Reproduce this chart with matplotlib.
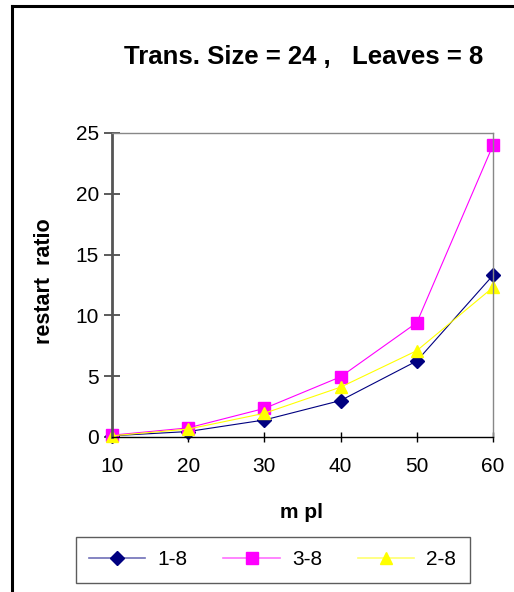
import matplotlib
matplotlib.use("Agg")
import matplotlib.pyplot as plt
from matplotlib.lines import Line2D

plt.rcParams['font.family'] = ['Liberation Sans', 'DejaVu Sans']

mpl_values = [10, 20, 30, 40, 50, 60]
series_names = ["1-8", "3-8", "2-8"]
ratio_1_8 = [0.1, 0.45, 1.4, 3.0, 6.25, 13.3]
ratio_3_8 = [0.15, 0.75, 2.35, 4.95, 9.4, 24.0]
ratio_2_8 = [0.1, 0.65, 1.95, 4.1, 7.1, 12.3]
y_ticks = [0, 5, 10, 15, 20, 25]

W, H = 514, 592
fig = plt.figure(figsize=(W / 100, H / 100), dpi=100)
fig.patch.set_facecolor("white")

# outer chart frame (left and top edges)
fig.add_artist(Line2D([12 / W, 12 / W], [0, 1 - 6 / H], transform=fig.transFigure,
                      color="black", lw=2.2, solid_capstyle="projecting"))
fig.add_artist(Line2D([12 / W, 1], [1 - 6 / H, 1 - 6 / H], transform=fig.transFigure,
                      color="black", lw=2.2, solid_capstyle="projecting"))

left, right, top, bottom = 112, 493, 133, 437
ax = fig.add_axes([left / W, 1 - bottom / H, (right - left) / W, (bottom - top) / H])

styles = [
    (ratio_1_8, "#000080", "#7070B8", "D", 7.0),
    (ratio_3_8, "#FF00FF", "#FF70FF", "s", 9.0),
    (ratio_2_8, "#FFFF00", "#FFFF70", "^", 9.0),
]
handles = []
for (vals, color, light, marker, ms), name in zip(styles, series_names):
    ax.plot(mpl_values, vals, color=color, lw=0.8, marker=marker,
            markersize=ms, markerfacecolor=color, markeredgecolor=color,
            clip_on=False)
    handles.append(Line2D([], [], color=light, lw=1.2, marker=marker, markersize=ms,
                          markerfacecolor=color, markeredgecolor=color, label=name))

ax.set_xlim(10, 60)
ax.set_ylim(0, 25)
ax.set_xticks(mpl_values)
ax.set_yticks(y_ticks)
ax.tick_params(axis="y", direction="inout", length=11, width=1.2, color="#404040",
               labelsize=15, pad=4)
ax.tick_params(axis="x", direction="inout", length=7, width=1, color="black",
               labelsize=15, pad=11)

ax.spines["left"].set_color("#555555")
ax.spines["left"].set_linewidth(2)
ax.spines["bottom"].set_color("black")
ax.spines["bottom"].set_linewidth(1)
for s in ("top", "right"):
    ax.spines[s].set_color("#888888")
    ax.spines[s].set_linewidth(1)

fig.text(304 / W, 1 - 57 / H, "Trans. Size = 24 ,   Leaves = 8", ha="center", va="center",
         fontsize=18.5, fontweight="bold")
fig.text(45 / W, 1 - 281 / H, "restart  ratio", ha="center", va="center",
         rotation=90, fontsize=15.5, fontweight="bold")
fig.text(302 / W, 1 - 512 / H, "m pl", ha="center", va="center",
         fontsize=15, fontweight="bold")

leg = fig.legend(handles=handles, loc="upper left", ncol=3, mode="expand",
                 bbox_to_anchor=(75.5 / W, 1 - 536.5 / H, (470 - 75.5) / W, 0.0),
                 frameon=True, fancybox=False, fontsize=15,
                 handlelength=2.7, handletextpad=0.6, columnspacing=1.5,
                 borderaxespad=0, borderpad=0.65)
leg.get_frame().set_edgecolor("#333333")
leg.get_frame().set_linewidth(1)

fig.savefig("out.png", dpi=100, facecolor="white")
